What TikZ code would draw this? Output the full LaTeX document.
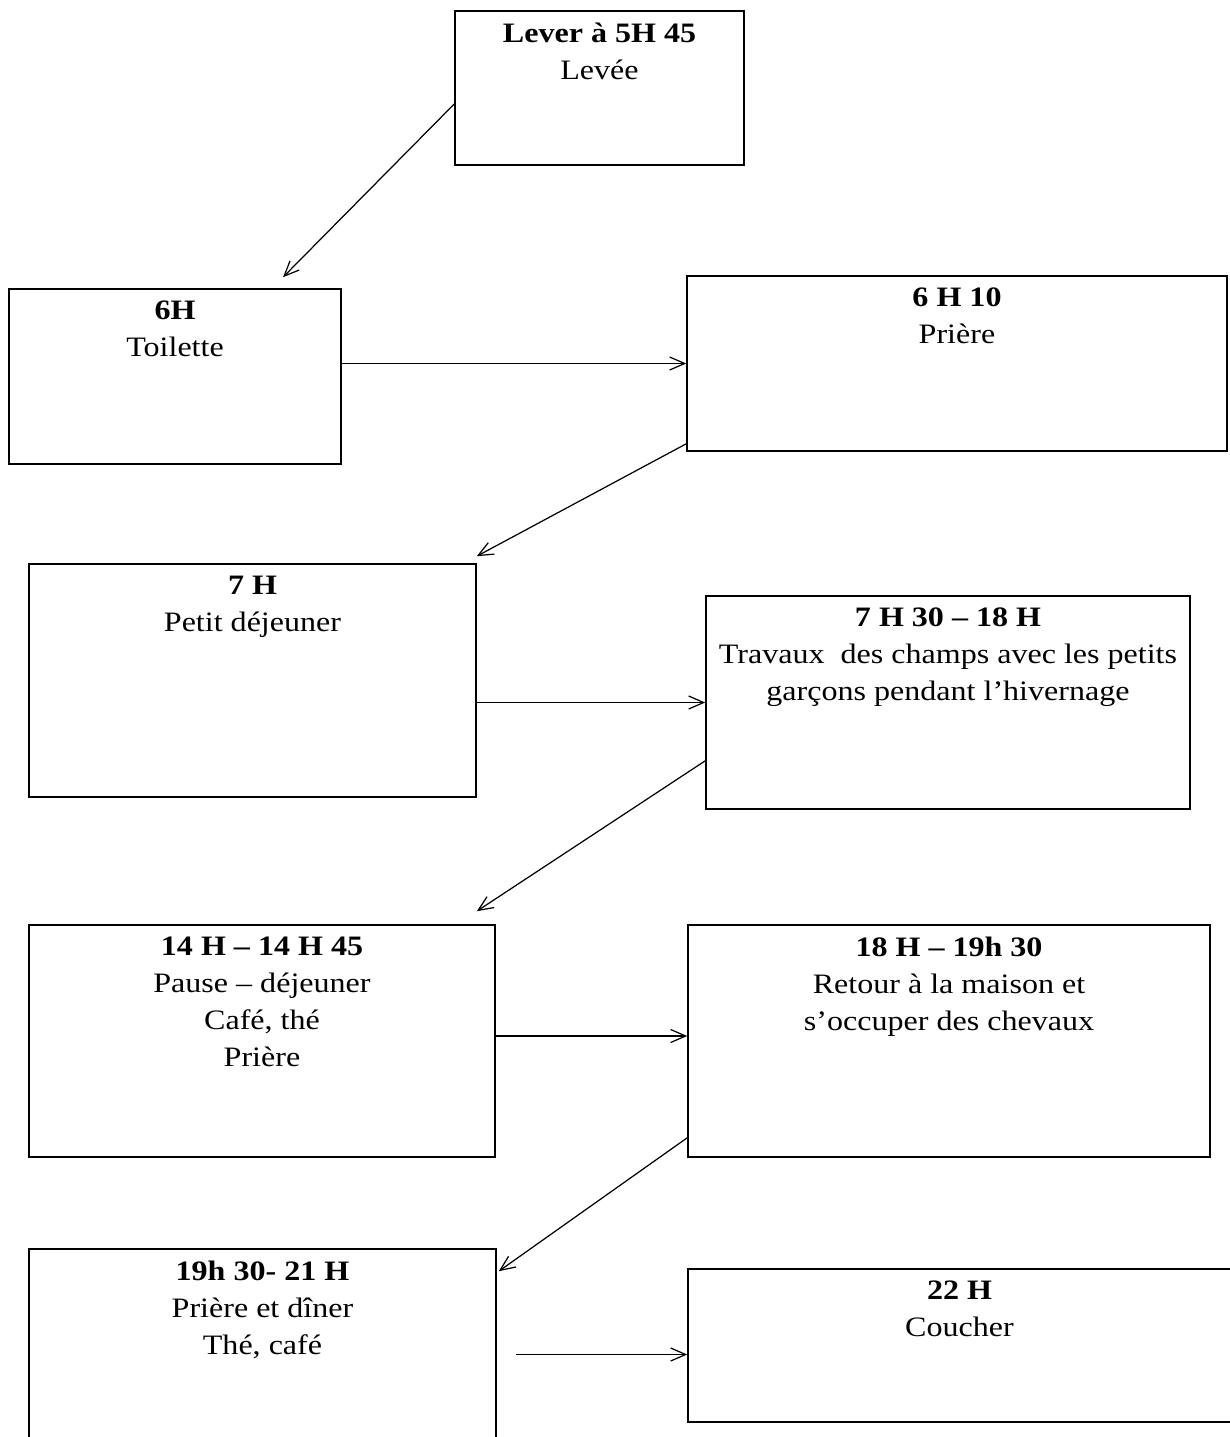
\documentclass[tikz,border=0pt]{standalone}
\usepackage{fontspec}
\setmainfont[FakeStretch=1.14]{Liberation Serif}
\usetikzlibrary{arrows.meta,positioning}

\begin{document}
\begin{tikzpicture}[
  node distance=2.5mm,
  box/.style={
    draw,
    line width=0.9pt,
    inner sep=0pt
  },
  txt/.style={
    align=center,
    inner sep=0pt,
    font=\fontsize{16}{21}\selectfont
  },
  line/.style={-{Straight Barb[length=3mm,width=2.6mm]}, line width=0.7pt}
]
\useasboundingbox (0,0) rectangle (24.6,-28.74);
\clip (0,0) rectangle (24.6,-28.74);

% Matin
\node[box,minimum width=5.78cm,minimum height=3.08cm] (lever) at (11.99,-1.76) {};
\node[txt,below=of lever.north] (lever_txt) {\textbf{Lever à 5H 45}\\Levée};

\node[box,minimum width=6.64cm,minimum height=3.5cm] (toilette) at (3.5,-7.53) {};
\node[txt,below=of toilette.north] (toilette_txt) {\textbf{6H}\\Toilette};

\node[box,minimum width=10.8cm,minimum height=3.5cm] (priere) at (19.14,-7.27) {};
\node[txt,below=of priere.north] (priere_txt) {\textbf{6 H 10}\\Prière};

\node[box,minimum width=8.94cm,minimum height=4.66cm] (petit_dej) at (5.05,-13.61) {};
\node[txt,below=of petit_dej.north] (petit_dej_txt) {\textbf{7 H}\\Petit déjeuner};

% Journee
\node[box,minimum width=9.68cm,minimum height=4.26cm] (travaux) at (18.96,-14.05) {};
\node[txt,below=of travaux.north] (travaux_txt)
{\textbf{7 H 30 – 18 H}\\Travaux\ \ des champs avec les petits\\garçons pendant l’hivernage};

\node[box,minimum width=9.32cm,minimum height=4.64cm] (pause_dej) at (5.24,-20.82) {};
\node[txt,below=of pause_dej.north] (pause_dej_txt)
{\textbf{14 H – 14 H 45}\\Pause – déjeuner\\Café, thé\\Prière};

\node[box,minimum width=10.44cm,minimum height=4.64cm] (retour) at (18.98,-20.82) {};
\node[txt,below=of retour.north] (retour_txt)
{\textbf{18 H – 19h 30}\\Retour à la maison et\\s’occuper des chevaux};

% Soir
\node[box,minimum width=9.34cm,minimum height=4.22cm] (diner) at (5.25,-27.09) {};
\node[txt,below=of diner.north] (diner_txt) {\textbf{19h 30- 21 H}\\Prière et dîner\\Thé, café};

\node[box,minimum width=10.86cm,minimum height=3.06cm] (coucher) at (19.19,-26.91) {};
\node[txt,below=of coucher.north] (coucher_txt) {\textbf{22 H}\\Coucher};

% Fleches
\draw[line] ([yshift=-0.32cm]lever.west) -- ([xshift=2.16cm,yshift=0.22cm]toilette.north);
\draw[line] (priere.west -| toilette.east) -- (priere.west);
\draw[line] ([yshift=0.16cm]priere.south west) -- ([yshift=0.14cm]petit_dej.north east);
\draw[line] (travaux.west -| petit_dej.east) -- (travaux.west);
\draw[line] ([yshift=0.98cm]travaux.south west) -- ([xshift=-0.38cm,yshift=0.26cm]pause_dej.north east);
\draw[line] ([yshift=0.1cm]pause_dej.east) -- ([yshift=0.1cm]retour.west);
\draw[line] ([yshift=0.4cm]retour.south west) -- ([xshift=0.04cm,yshift=-0.46cm]diner.north east);
\draw[line] ([xshift=0.38cm]diner.east) -- (diner.east -| coucher.west);

\end{tikzpicture}
\end{document}
